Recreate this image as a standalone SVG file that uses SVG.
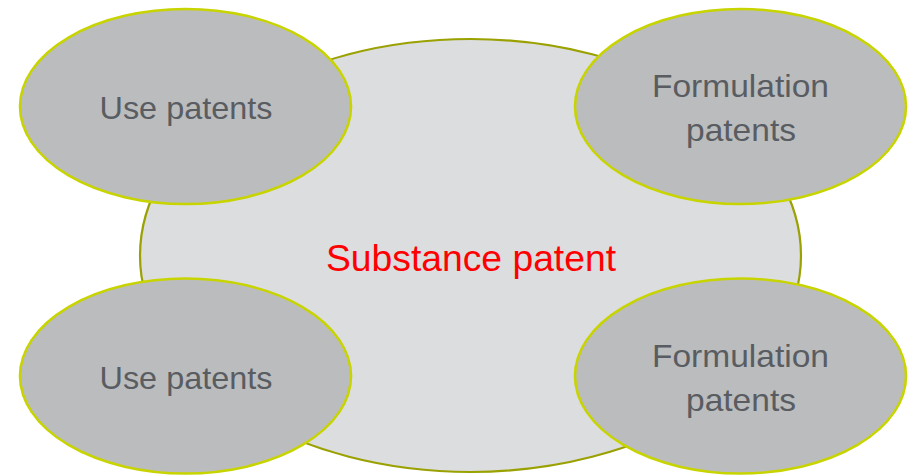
<svg xmlns="http://www.w3.org/2000/svg" width="910" height="475" viewBox="0 0 910 475">
  <style>
    .main { fill: #dcdddf; stroke: #9aa100; stroke-width: 2.2; }
    .sat { fill: #bbbcbe; stroke: #c8d400; stroke-width: 2.6; }
    .lbl { font-family: "Liberation Sans", Arial, sans-serif; font-size: 32px; fill: #595c61; text-anchor: middle; }
    .center { font-family: "Liberation Sans", Arial, sans-serif; font-size: 37.5px; fill: #ff0000; text-anchor: middle; }
  </style>
  <rect width="910" height="475" fill="#ffffff"/>
  <g id="substance">
    <ellipse class="main" cx="470.5" cy="255.5" rx="330.5" ry="216.5"/>
    <text class="center" x="471" y="271" textLength="290" lengthAdjust="spacingAndGlyphs">Substance patent</text>
  </g>
  <g id="use-top">
    <ellipse class="sat" cx="185.5" cy="106.5" rx="165.5" ry="97.5"/>
    <text class="lbl" x="186" y="119" textLength="173" lengthAdjust="spacingAndGlyphs">Use patents</text>
  </g>
  <g id="formulation-top">
    <ellipse class="sat" cx="740.5" cy="106.5" rx="165.5" ry="97.5"/>
    <text class="lbl" x="740.5" y="97" textLength="177" lengthAdjust="spacingAndGlyphs">Formulation</text>
    <text class="lbl" x="741" y="141" textLength="110" lengthAdjust="spacingAndGlyphs">patents</text>
  </g>
  <g id="use-bottom">
    <ellipse class="sat" cx="185.5" cy="376" rx="165.5" ry="97.5"/>
    <text class="lbl" x="186" y="389" textLength="173" lengthAdjust="spacingAndGlyphs">Use patents</text>
  </g>
  <g id="formulation-bottom">
    <ellipse class="sat" cx="740.5" cy="376" rx="165.5" ry="97.5"/>
    <text class="lbl" x="740.5" y="367" textLength="177" lengthAdjust="spacingAndGlyphs">Formulation</text>
    <text class="lbl" x="741" y="411" textLength="110" lengthAdjust="spacingAndGlyphs">patents</text>
  </g>
</svg>
